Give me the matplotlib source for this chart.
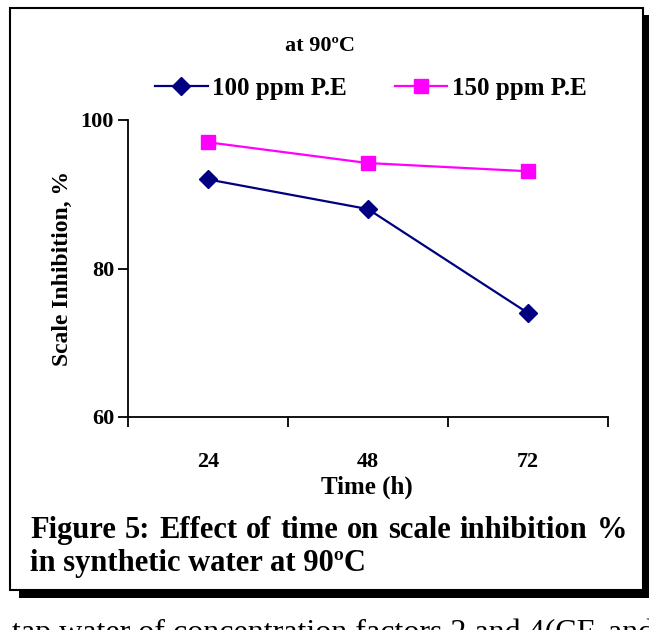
import matplotlib.pyplot as plt
from matplotlib.patches import Rectangle
from matplotlib.lines import Line2D

hours = ["24", "48", "72"]
pe_100 = [92, 88, 74]
pe_150 = [97, 94.2, 93.1]
series_names = ["100 ppm P.E", "150 ppm P.E"]
caption = ["Figure 5: Effect of time on scale inhibition %",
           "in synthetic water at 90ºC"]

W, H = 649, 630
plt.rcParams["font.family"] = "Liberation Serif"
fig = plt.figure(figsize=(W / 100, H / 100), dpi=100)


def fx(px):
    return px / W


def fy(py):
    return 1 - py / H


# framed figure box with a drop shadow
fig.patches.append(Rectangle((fx(19), fy(598)), fx(660) - fx(19), fy(15) - fy(598),
                             transform=fig.transFigure, facecolor="black",
                             edgecolor="none", zorder=0))
fig.patches.append(Rectangle((fx(10), fy(590)), fx(643) - fx(10), fy(8) - fy(590),
                             transform=fig.transFigure, facecolor="white",
                             edgecolor="black", linewidth=1.5, zorder=1))

ax = fig.add_axes([fx(128), fy(417), fx(608) - fx(128), fy(120) - fy(417)])
ax.set_facecolor("none")
ax.set_zorder(2)

x = [1, 2, 3]
ax.plot(x, pe_100, color="#000080", marker="D", markersize=9, linewidth=1.6,
        label=series_names[0], clip_on=False)
ax.plot(x, pe_150, color="#FF00FF", marker="s", markersize=10, linewidth=1.6,
        label=series_names[1], clip_on=False)

ax.set_xlim(0.5, 3.5)
ax.set_ylim(60, 100)
ax.set_yticks([60, 80, 100])
ax.set_xticks([0.5, 1.5, 2.5, 3.5])
ax.set_xticklabels([])
ax.set_xticks(x, minor=True)
ax.set_xticklabels(hours, minor=True)
ax.tick_params(axis="x", which="major", direction="out", length=7, width=1.3)
ax.tick_params(axis="x", which="minor", length=0, pad=25, labelsize=16)
ax.tick_params(axis="y", direction="out", length=7, width=1.3, labelsize=16, pad=3)
for lbl in ax.get_xticklabels(minor=True) + ax.get_yticklabels():
    lbl.set_fontweight("bold")
for s in ["top", "right"]:
    ax.spines[s].set_visible(False)
for s in ["left", "bottom"]:
    ax.spines[s].set_linewidth(1.3)

fig.text(fx(367), fy(487), "Time (h)", ha="center", va="center",
         fontsize=18, fontweight="bold", zorder=3)
fig.text(fx(62), fy(268), "Scale Inhibition, %", ha="center", va="center",
         rotation=90, fontsize=17, fontweight="bold", zorder=3)

fig.text(fx(320), fy(46), "at 90ºC", ha="center", va="center",
         fontsize=16, fontweight="bold", zorder=3)
handles = [
    Line2D([], [], color="#000080", marker="D", markersize=9, linewidth=1.6),
    Line2D([], [], color="#FF00FF", marker="s", markersize=10, linewidth=1.6),
]
leg = fig.legend(handles, series_names, loc="center", bbox_to_anchor=(fx(371), fy(88)),
                 ncol=2, frameon=False, handlelength=2.1, handletextpad=0.2,
                 columnspacing=1.9, prop={"size": 18, "weight": "bold"})
leg.set_zorder(3)

# caption: first line justified between the box margins, words on one baseline
cap_kw = dict(fontsize=22, fontweight="bold", va="baseline", zorder=3)
renderer = fig.canvas.get_renderer()
words = caption[0].split()
word_texts = [fig.text(0, fy(538), w, ha="left", **cap_kw) for w in words]
widths = [t.get_window_extent(renderer).width for t in word_texts]
left, right = 30, 627
gap = (right - left - sum(widths)) / (len(words) - 1)
pos = left
for t, w in zip(word_texts, widths):
    t.set_x(fx(pos))
    pos += w + gap
fig.text(fx(left), fy(571), caption[1], ha="left", **cap_kw)

# running text of the page below the box, cut by the page edge
fig.text(fx(12), fy(641), "tap water of concentration factors 2 and 4(CF, and",
         ha="left", va="baseline", fontsize=23, zorder=3)

fig.savefig("out.png", dpi=100)
